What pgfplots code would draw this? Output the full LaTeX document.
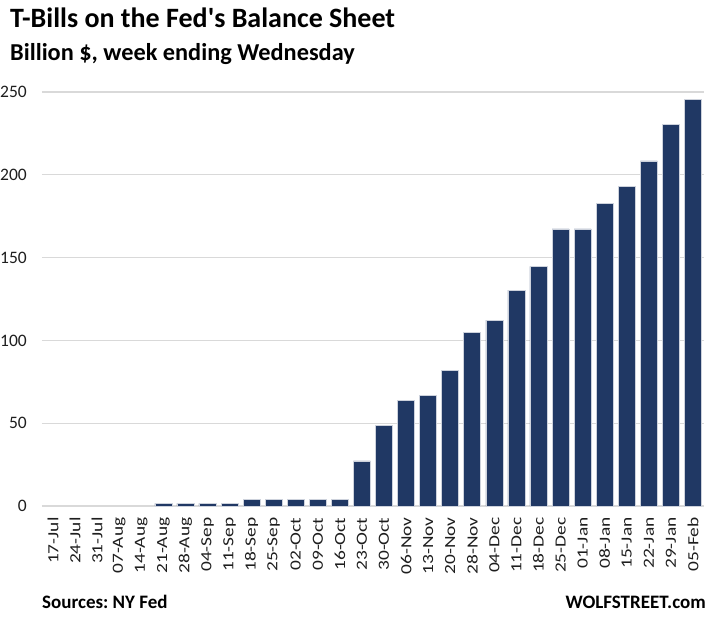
\documentclass[border=0pt]{standalone}
\usepackage{pgfplots}
\pgfplotsset{compat=1.18}
\usepackage{fontspec}
\setmainfont{Carlito}
\newfontfamily\tickfont[FakeStretch=1.25]{Carlito}
\definecolor{barblue}{RGB}{32,56,100}
\definecolor{gridgray}{RGB}{217,217,217}
\definecolor{edgegray}{RGB}{205,210,220}
\definecolor{txt}{RGB}{30,30,30}
\frenchspacing
\begin{document}
\begin{tikzpicture}[x=1bp,y=1bp]
\path[use as bounding box] (0,0) rectangle (723,624);
\begin{axis}[
  at={(53bp,118bp)}, anchor=origin,
  scale only axis, width=662bp, height=414bp,
  xmin=-0.5, xmax=29.5, ymin=0, ymax=250,
  axis x line*=bottom, axis y line*=left,
  y axis line style={draw=none},
  x axis line style={draw=gridgray, line width=1.2bp},
  ymajorgrids, grid style={draw=gridgray, line width=1.2bp},
  ytick={0,50,100,150,200,250},
  yticklabel style={font=\fontsize{17.5bp}{20bp}\selectfont, text=txt, xshift=-13bp, inner sep=2bp},
  /pgf/number format/assume math mode=true,
  xtick={0,...,29}, major tick length=0pt,
  xticklabels={17-Jul,24-Jul,31-Jul,07-Aug,14-Aug,21-Aug,28-Aug,04-Sep,11-Sep,18-Sep,25-Sep,02-Oct,09-Oct,16-Oct,23-Oct,30-Oct,06-Nov,13-Nov,20-Nov,28-Nov,04-Dec,11-Dec,18-Dec,25-Dec,01-Jan,08-Jan,15-Jan,22-Jan,29-Jan,05-Feb},
  xticklabel style={rotate=90, anchor=east, font=\tickfont\fontsize{15.5bp}{17bp}\selectfont, text=txt, xshift=-8bp},
  clip=false,
]
\addplot[ybar, bar width=0.77, fill=barblue, draw=edgegray, line width=0.6bp] coordinates {
(5,1.6) (6,1.6) (7,1.6) (8,1.6) (9,4.2) (10,4.2) (11,4.2) (12,4.2) (13,4.2)
(14,27.2) (15,48.8) (16,63.9) (17,66.9) (18,82.0) (19,104.8) (20,112.3) (21,130.4) (22,144.7) (23,167.3)
(24,167.3) (25,182.8) (26,192.9) (27,208.4) (28,230.3) (29,245.3)
};
\end{axis}
\node[anchor=base west, inner sep=0pt, font=\fontsize{28bp}{30bp}\selectfont\bfseries] at (10,596) {T-Bills on the Fed\textquotesingle s Balance Sheet};
\node[anchor=base west, inner sep=0pt, font=\fontsize{24.3bp}{27bp}\selectfont\bfseries] at (10,563) {Billion \$, week ending Wednesday};
\node[anchor=base west, inner sep=0pt, font=\fontsize{19bp}{22bp}\selectfont\bfseries] at (42,15) {Sources: NY Fed};
\node[anchor=base east, inner sep=0pt, font=\fontsize{19bp}{22bp}\selectfont\bfseries] at (706,15) {WOLFSTREET.com};
\end{tikzpicture}
\end{document}
